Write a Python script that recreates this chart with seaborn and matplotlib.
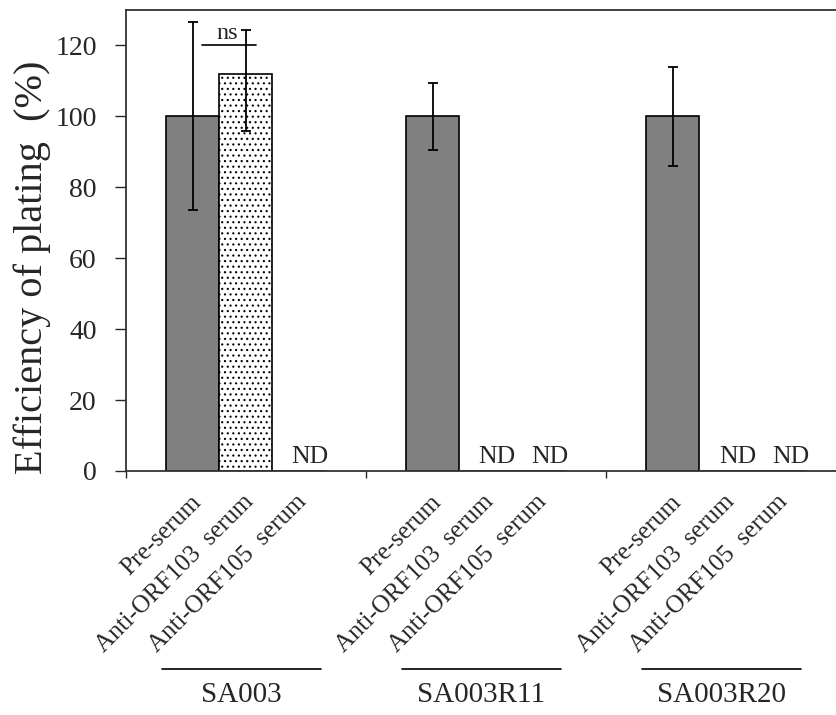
import numpy as np
import pandas as pd
import matplotlib
matplotlib.use('Agg')
import matplotlib.pyplot as plt
import matplotlib.transforms as mtransforms
import seaborn as sns

sns.set_style('white')
plt.rcParams['font.family'] = ['Liberation Serif', 'DejaVu Serif']
plt.rcParams['hatch.linewidth'] = 0.8

# data
strains = ['SA003', 'SA003R11', 'SA003R20']
treatments = ['Pre-serum', 'Anti-ORF103  serum', 'Anti-ORF105  serum']
means = {
    'SA003':    [100, 112, 0],
    'SA003R11': [100, 0, 0],
    'SA003R20': [100, 0, 0],
}
err_low = {
    'SA003':    [26.5, 16.0, 0],
    'SA003R11': [9.5, 0, 0],
    'SA003R20': [14.0, 0, 0],
}
err_high = {
    'SA003':    [26.5, 12.4, 0],
    'SA003R11': [9.3, 0, 0],
    'SA003R20': [14.0, 0, 0],
}
not_detected = {
    'SA003':    [False, False, True],
    'SA003R11': [False, True, True],
    'SA003R20': [False, True, True],
}

# layout: one bar = 1 unit, groups 4.53 units apart
group_w = 4.53
first = 1.255

rows = []
for g, s in enumerate(strains):
    for i, t in enumerate(treatments):
        rows.append({'strain': s, 'treatment': t, 'pos': g * group_w + first + i,
                     'value': means[s][i], 'lo': err_low[s][i], 'hi': err_high[s][i],
                     'nd': not_detected[s][i]})
df = pd.DataFrame(rows)

fig = plt.figure(figsize=(8.37, 7.15), dpi=100)
ax = fig.add_axes([126 / 837, 244 / 715, 711 / 837, 461 / 715])

pal = {treatments[0]: '#808080', treatments[1]: 'white', treatments[2]: '#808080'}
sns.barplot(data=df, x='pos', y='value', hue='treatment', palette=pal,
            native_scale=True, dodge=False, width=1.0, errorbar=None,
            edgecolor='black', linewidth=1.2, legend=False, ax=ax)

for p in ax.patches:
    if p.get_facecolor()[:3] == (1.0, 1.0, 1.0) and p.get_height() > 0:
        p.set_hatch('...')

eb = df[(df.value > 0)]
ax.errorbar(eb.pos, eb.value, yerr=[eb.lo, eb.hi], fmt='none', ecolor='black',
            elinewidth=1.3, capsize=3.5, capthick=1.3, zorder=5)

for _, r in df[df.nd].iterrows():
    ax.text(r.pos + 0.22, 0.8, 'ND', ha='center', va='bottom', fontsize=18.5)

# ns bracket
p0, p1 = df.pos.iloc[0], df.pos.iloc[1]
ax.plot([p0 + 0.18, p1 + 0.2], [120, 120], color='black', lw=1.2)
ax.text((p0 + p1) / 2 + 0.16, 120.3, 'ns', ha='center', va='bottom', fontsize=17.5)

ax.set_xlim(0, 711 / 53)
ax.set_ylim(0, 130)
ax.set_yticks(np.arange(0, 121, 20))
ax.tick_params(axis='y', direction='out', length=8, width=1, labelsize=20, pad=13, left=True)
ax.set_xticks(df.pos)
ax.set_xticklabels(df.treatment, rotation=45, ha='right', va='center',
                   rotation_mode='anchor', fontsize=18)
ax.tick_params(axis='x', length=0, pad=20)
shift = mtransforms.ScaledTranslation(5 / 100, 0, fig.dpi_scale_trans)
for lab in ax.get_xticklabels():
    lab.set_transform(lab.get_transform() + shift)
ax.set_xticks([0, group_w, 2 * group_w], minor=True)
ax.tick_params(axis='x', which='minor', direction='out', length=5, width=1, bottom=True)
ax.set_xlabel('')
ax.set_ylabel('Efficiency of plating  (%)', fontsize=29, va='center')
ax.yaxis.set_label_coords(-0.132, 0.4425)

for side in ['left', 'bottom', 'top']:
    ax.spines[side].set_color('#333333')
    ax.spines[side].set_linewidth(1.3)
ax.spines['right'].set_visible(False)

# group labels under the tick labels
trans = mtransforms.blended_transform_factory(ax.transData, ax.transAxes)
for g, s in enumerate(strains):
    x0 = g * group_w + first - 0.58
    x1 = x0 + 3.0
    ax.plot([x0, x1], [-0.4295, -0.4295], color='black', lw=1.2,
            transform=trans, clip_on=False)
    ax.text((x0 + x1) / 2, -0.485, s, ha='center', va='center', fontsize=21,
            transform=trans)

fig.savefig('out.png', dpi=100)
